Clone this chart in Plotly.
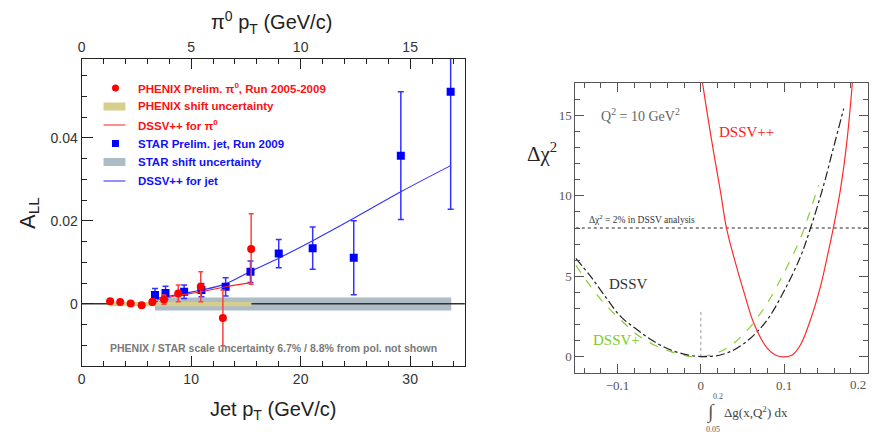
import plotly.graph_objects as go

W, H = 874, 435


def px(x):
    return x / W


def py(y):
    return 1 - y / H


# ---------------- Left panel data ----------------
# PHENIX pi0 points (pi0 pT, top axis)
phenix_pt = [1.30, 1.76, 2.24, 2.74, 3.23, 3.76, 4.41, 5.44, 6.45, 7.74]
phenix_all = [0.0006, 0.00044, 0.00005, -0.00036, 0.00044, 0.0010, 0.0025, 0.0041, -0.0034, 0.0132]
phenix_err = [0.0003, 0.0003, 0.0003, 0.0004, 0.0007, 0.0011, 0.0020, 0.0036, 0.0067, 0.0085]

# STAR jet points (jet pT, bottom axis)
star_pt = [6.7, 7.66, 9.36, 10.94, 13.15, 15.42, 18.0, 21.1, 24.85, 29.15, 33.7]
star_all = [0.0021, 0.0026, 0.0029, 0.0033, 0.0041, 0.0077, 0.0121, 0.0134, 0.0111, 0.0357, 0.0511]
star_err = [0.0016, 0.0016, 0.0016, 0.0016, 0.0022, 0.0026, 0.0034, 0.0051, 0.0089, 0.0154, 0.0283]

# DSSV++ curves
dssv_jet_pt = [6.7, 9.36, 10.94, 13.15, 15.42, 18.0, 21.1, 24.85, 29.15, 33.7]
dssv_jet_all = [0.0012, 0.0025, 0.0033, 0.0048, 0.0078, 0.0110, 0.0152, 0.0206, 0.0270, 0.0333]
dssv_pi0_pt = [3.35, 4.4, 5.47, 6.58, 7.75]
dssv_pi0_all = [0.00085, 0.0020, 0.0029, 0.0041, 0.0051]

# shift uncertainty bands
phenix_band_pt = [1.3, 7.75]
phenix_band_all = [-0.0006, 0.0004]
star_band_pt = [6.7, 33.76]
star_band_all = [-0.0016, 0.0015]

left_note = "PHENIX / STAR scale uncertainty 6.7% / 8.8% from pol. not shown"

# ---------------- Right panel data ----------------
dssv_x = [-0.150, -0.132, -0.116, -0.096, -0.076, -0.056, -0.036, -0.016, 0.0, 0.0077, 0.0236,
          0.0395, 0.0595, 0.0795, 0.0994, 0.1194, 0.1314, 0.1473, 0.1593, 0.1713]
dssv_chi2 = [6.11, 4.98, 3.84, 2.50, 1.67, 0.95, 0.43, 0.12, 0.02, 0.02, 0.12,
             0.43, 1.16, 2.29, 4.05, 6.21, 7.97, 10.66, 13.03, 15.41]

dssvp_x = [-0.150, -0.132, -0.116, -0.096, -0.076, -0.056, -0.036, -0.016, -0.003, 0.0196,
           0.0395, 0.0595, 0.0795, 0.0994, 0.1194, 0.1274, 0.1413]
dssvp_chi2 = [5.7, 4.36, 3.33, 2.29, 1.36, 0.74, 0.33, 0.05, 0.0, 0.25,
              0.85, 1.88, 3.33, 5.19, 7.35, 8.49, 10.66]

dssvpp_x = [0.0005, 0.0077, 0.0156, 0.0236, 0.0306, 0.0395, 0.0515, 0.0635, 0.0795, 0.0894,
            0.0994, 0.1095, 0.1194, 0.1314, 0.1434, 0.1533, 0.1590, 0.1673, 0.1753, 0.1825]
dssvpp_chi2 = [17.5, 15.1, 12.62, 10.24, 8.02, 6.21, 4.05, 2.09, 0.54, 0.12,
               0.0, 0.12, 0.74, 2.29, 4.36, 6.63, 8.02, 10.35, 13.44, 17.5]

chi2_limit = 8.0
x2_last_label = "0.2"

fig = go.Figure()

# ---- left panel traces ----
fig.add_trace(go.Scatter(
    x=[star_band_pt[0], star_band_pt[1], star_band_pt[1], star_band_pt[0], star_band_pt[0]],
    y=[star_band_all[0], star_band_all[0], star_band_all[1], star_band_all[1], star_band_all[0]],
    fill="toself", fillcolor="#aebcc6", mode="lines", line=dict(width=0),
    xaxis="x", yaxis="y", hoverinfo="skip", showlegend=False))
fig.add_trace(go.Scatter(
    x=[phenix_band_pt[0], phenix_band_pt[1], phenix_band_pt[1], phenix_band_pt[0], phenix_band_pt[0]],
    y=[phenix_band_all[0], phenix_band_all[0], phenix_band_all[1], phenix_band_all[1], phenix_band_all[0]],
    fill="toself", fillcolor="#d6cf8c", mode="lines", line=dict(width=0),
    xaxis="x3", yaxis="y", hoverinfo="skip", showlegend=False))
fig.add_trace(go.Scatter(
    x=[0, 35], y=[0, 0], mode="lines", line=dict(color="#333333", width=1.3),
    xaxis="x", yaxis="y", hoverinfo="skip", showlegend=False))
fig.add_trace(go.Scatter(
    x=dssv_pi0_pt, y=dssv_pi0_all, mode="lines", line=dict(color="#ff2020", width=1.1, shape="spline"),
    xaxis="x3", yaxis="y", showlegend=False))
fig.add_trace(go.Scatter(
    x=dssv_jet_pt, y=dssv_jet_all, mode="lines", line=dict(color="#3030ff", width=1.1, shape="spline"),
    xaxis="x", yaxis="y", showlegend=False))
fig.add_trace(go.Scatter(
    x=star_pt, y=star_all, mode="markers",
    marker=dict(symbol="square", size=8, color="#0000ff"),
    error_y=dict(type="data", array=star_err, color="#3333ff", thickness=1.5, width=3),
    xaxis="x", yaxis="y", showlegend=False))
fig.add_trace(go.Scatter(
    x=phenix_pt, y=phenix_all, mode="markers",
    marker=dict(symbol="circle", size=8, color="#ff0000"),
    error_y=dict(type="data", array=phenix_err, color="#ff4040", thickness=1.5, width=2.5),
    xaxis="x3", yaxis="y", showlegend=False))

# ---- right panel traces ----
fig.add_trace(go.Scatter(
    x=[-0.15, 0.2], y=[chi2_limit, chi2_limit], mode="lines",
    line=dict(color="#222222", width=1, dash="dot"),
    xaxis="x2", yaxis="y2", hoverinfo="skip", showlegend=False))
fig.add_trace(go.Scatter(
    x=[0, 0], y=[0, 2.8], mode="lines",
    line=dict(color="#999999", width=1, dash="dot"),
    xaxis="x2", yaxis="y2", hoverinfo="skip", showlegend=False))
fig.add_trace(go.Scatter(
    x=dssvp_x, y=dssvp_chi2, mode="lines",
    line=dict(color="#8ccc33", width=1.2, dash="dash", shape="spline"),
    xaxis="x2", yaxis="y2", showlegend=False))
fig.add_trace(go.Scatter(
    x=dssv_x, y=dssv_chi2, mode="lines",
    line=dict(color="#222222", width=1.2, dash="dashdot", shape="spline"),
    xaxis="x2", yaxis="y2", showlegend=False))
fig.add_trace(go.Scatter(
    x=dssvpp_x, y=dssvpp_chi2, mode="lines",
    line=dict(color="#ff2a2a", width=1.2, shape="spline"),
    xaxis="x2", yaxis="y2", showlegend=False))

left_font = dict(family="Liberation Sans, Arial, sans-serif", size=14, color="#333333")
right_font = dict(family="Liberation Serif, Times New Roman, serif", size=13, color="#555555")

fig.update_layout(
    width=W, height=H,
    margin=dict(l=0, r=0, t=0, b=0),
    paper_bgcolor="white", plot_bgcolor="white",
    showlegend=False,
    xaxis=dict(domain=[px(78), px(463)], range=[0, 35], anchor="y",
               tick0=0, dtick=10, ticks="inside", ticklen=10, tickcolor="#222",
               minor=dict(dtick=2, ticklen=5, ticks="inside", tickcolor="#222"),
               showline=True, linecolor="#222", linewidth=1, mirror=True,
               showgrid=False, zeroline=False, tickfont=left_font),
    xaxis3=dict(overlaying="x", side="top", range=[0, 17.5], anchor="y",
                tick0=0, dtick=5, ticks="inside", ticklen=10, tickcolor="#222",
                minor=dict(dtick=1, ticklen=5, ticks="inside", tickcolor="#222"),
                showline=True, linecolor="#222", linewidth=1,
                showgrid=False, zeroline=False, tickfont=left_font),
    yaxis=dict(domain=[py(366), py(59)], range=[-0.015, 0.059], anchor="x",
               tick0=0, dtick=0.02, ticks="inside", ticklen=11, tickcolor="#222",
               minor=dict(dtick=0.005, ticklen=5, ticks="inside", tickcolor="#222"),
               showline=True, linecolor="#222", linewidth=1, mirror=True,
               showgrid=False, zeroline=False, tickfont=left_font),
    xaxis2=dict(domain=[px(574), px(868)], range=[-0.1505, 0.2005], anchor="y2",
                tick0=0, dtick=0.1, ticks="inside", ticklen=9, tickcolor="#555",
                minor=dict(dtick=0.02, ticklen=5, ticks="inside", tickcolor="#555"),
                showline=True, linecolor="#555", linewidth=1, mirror="allticks",
                showgrid=False, zeroline=False, tickfont=right_font),
    yaxis2=dict(domain=[py(373), py(83)], range=[-1, 17], anchor="x2",
                tick0=0, dtick=5, ticks="inside", ticklen=9, tickcolor="#555",
                minor=dict(dtick=1, ticklen=5, ticks="inside", tickcolor="#555"),
                showline=True, linecolor="#555", linewidth=1, mirror="allticks",
                showgrid=False, zeroline=False, tickfont=right_font),
)

ann = []
sans = "Liberation Sans, Arial, sans-serif"
serif = "Liberation Serif, Times New Roman, serif"


def add_text(x, y, text, size, color, family, xanchor="center", yanchor="middle", angle=0):
    ann.append(dict(x=px(x), y=py(y), xref="paper", yref="paper", text=text, showarrow=False,
                    xanchor=xanchor, yanchor=yanchor, textangle=angle,
                    font=dict(size=size, color=color, family=family)))


# left titles
add_text(269, 22, "π<sup>0</sup> p<sub>T</sub> (GeV/c)", 20, "#222", sans)
add_text(270, 410, "Jet p<sub>T</sub> (GeV/c)", 20, "#222", sans)
add_text(25, 213, "A<sub>LL</sub>", 22, "#222", sans, angle=-90)
add_text(271, 348, "<b>" + left_note + "</b>", 10.5, "#7a7a7a", sans)

# legend
rows = [88, 106.5, 125, 143.5, 162, 181]
red_t = "#ff1010"
blue_t = "#1010ff"
legend_texts = [
    ("PHENIX Prelim. π<sup>0</sup>, Run 2005-2009", red_t),
    ("PHENIX shift uncertainty", red_t),
    ("DSSV++ for π<sup>0</sup>", red_t),
    ("STAR Prelim. jet, Run 2009", blue_t),
    ("STAR shift uncertainty", blue_t),
    ("DSSV++ for jet", blue_t),
]
for (t, c), yy in zip(legend_texts, rows):
    add_text(133, yy, "<b>" + t + "</b>", 11.5, c, sans, xanchor="left")

shapes = [
    dict(type="circle", xref="paper", yref="paper", x0=px(108.5), x1=px(115.5),
         y0=py(rows[0] + 3.5), y1=py(rows[0] - 3.5), fillcolor="#ff0000", line=dict(width=0)),
    dict(type="rect", xref="paper", yref="paper", x0=px(100), x1=px(122),
         y0=py(rows[1] + 4), y1=py(rows[1] - 4), fillcolor="#d6cf8c", line=dict(width=0)),
    dict(type="line", xref="paper", yref="paper", x0=px(100), x1=px(122),
         y0=py(rows[2]), y1=py(rows[2]), line=dict(color="#ff2020", width=1)),
    dict(type="rect", xref="paper", yref="paper", x0=px(108.5), x1=px(115.5),
         y0=py(rows[3] + 3.5), y1=py(rows[3] - 3.5), fillcolor="#0000ff", line=dict(width=0)),
    dict(type="rect", xref="paper", yref="paper", x0=px(100), x1=px(122),
         y0=py(rows[4] + 4), y1=py(rows[4] - 4), fillcolor="#aebcc6", line=dict(width=0)),
    dict(type="line", xref="paper", yref="paper", x0=px(100), x1=px(122),
         y0=py(rows[5]), y1=py(rows[5]), line=dict(color="#2020ff", width=1)),
]

# right panel texts
add_text(598, 115, "Q<sup>2</sup> = 10 GeV<sup>2</sup>", 14, "#666666", serif, xanchor="left")
add_text(716, 132, "DSSV++", 15, "#ff2020", serif, xanchor="left")
add_text(586, 219, "Δχ<sup>2</sup> = 2% in DSSV analysis", 9.5, "#333333", serif, xanchor="left")
add_text(606, 284, "DSSV", 15, "#333333", serif, xanchor="left")
add_text(590, 340, "DSSV+", 15, "#7ccc22", serif, xanchor="left")
add_text(540, 152, "Δχ<sup>2</sup>", 21, "#222", serif)
add_text(710, 412, "∫", 20, "#555555", serif)
add_text(717, 396, "0.2", 8, "#555555", serif)
add_text(712, 429, "0.05", 8, "#555555", serif)
add_text(721, 412, "Δg(x,Q<sup>2</sup>) dx", 13, "#444444", serif, xanchor="left")
# right-most x tick label (the axis hides it because it touches the page edge)
add_text(858, 384, x2_last_label, 13, "#555555", serif)

fig.update_layout(annotations=ann, shapes=shapes)

fig.write_html("out.html")
